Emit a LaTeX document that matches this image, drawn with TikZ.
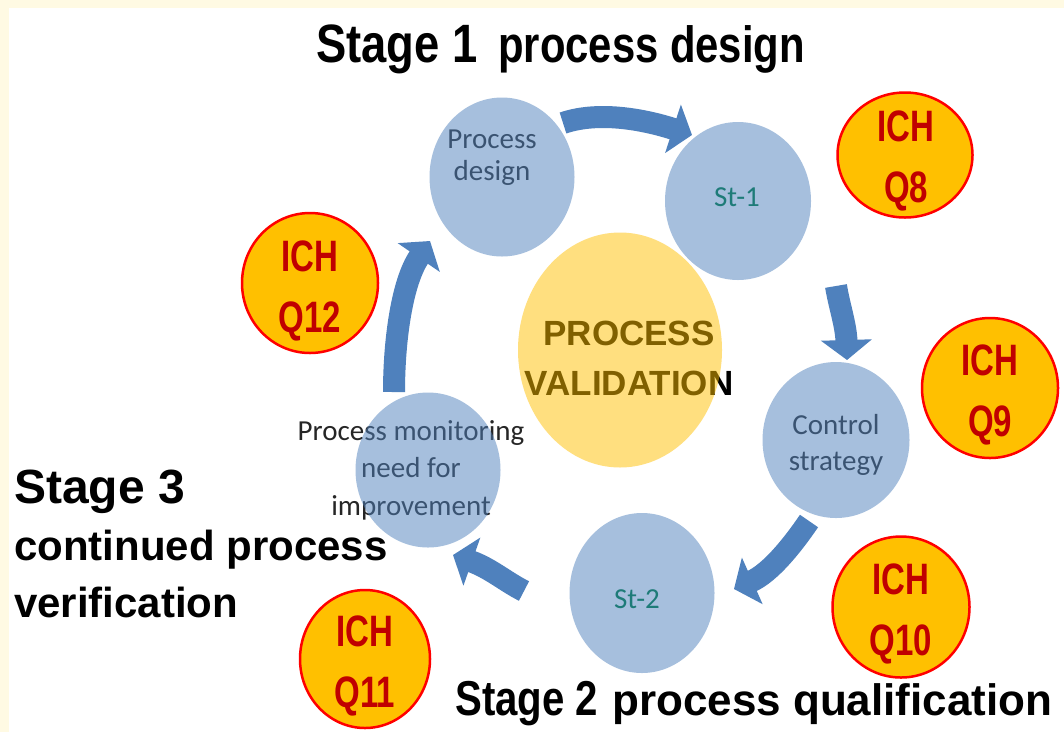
\documentclass[tikz,border=0pt]{standalone}
\usepackage{fontspec}
\setmainfont{Liberation Sans}
\newfontfamily\narrowsans{Liberation Sans}[FakeStretch=0.82]
\newfontfamily\stagesans{Liberation Sans}[FakeStretch=0.84]
\newfontfamily\ichsans{Liberation Sans}[FakeStretch=0.75]
\newfontfamily\calfont{Carlito}
\usetikzlibrary{shapes.geometric,arrows.meta}

\definecolor{cream}{HTML}{FFFAE3}
\definecolor{accentblue}{HTML}{4F81BD}
\definecolor{gold}{HTML}{FFC000}
\definecolor{ichred}{HTML}{C00000}
\definecolor{sttext}{HTML}{1E7B78}
\definecolor{inktext}{HTML}{262626}

\tikzset{
  bubble/.style={ellipse, inner sep=0pt, fill=accentblue, fill opacity=0.5},
  core/.style={ellipse, inner sep=0pt, fill=gold, fill opacity=0.5},
  ich/.style={ellipse, inner sep=0pt, fill=gold, draw=red, line width=2.5pt},
  ichtext/.style={anchor=base, inner sep=0pt, align=center, text=ichred,
    font={\ichsans\bfseries\fontsize{44}{61}\selectfont}},
  calib/.style={anchor=base, inner sep=0pt, align=center, text=inktext},
  stlabel/.style={anchor=base, inner sep=0pt, text=sttext,
    font={\calfont\fontsize{29}{34}\selectfont}},
  stage/.style={anchor=base west, inner sep=0pt, text=black},
  flow/.style={draw=accentblue, line width=22pt, line cap=butt,
    -{Triangle[width=50pt,length=20pt]}},
}

\begin{document}
\begin{tikzpicture}[x=1pt,y=-1pt]
  % page background with cream edge
  \useasboundingbox (0,0) rectangle (1064,732);
  \fill[cream] (0,0) rectangle (1064,732);
  \fill[white] (9,8) rectangle (1064,732);

  % texts that sit underneath the translucent circles (placed by last baseline)
  \node[calib, font={\calfont\fontsize{29}{32}\selectfont}] (pdtext) at (492,180) {Process\\design};
  \node[calib, font={\calfont\fontsize{29}{36}\selectfont}] (cstext) at (836,470) {Control\\strategy};
  \node[calib, font={\calfont\fontsize{29}{37.5}\selectfont}] (pmtext) at (411,515) {Process monitoring\\need for\\improvement};
  \node[calib, text=black, font={\bfseries\fontsize{35}{50}\selectfont}] (pvtext) at (629,395) {PROCESS\\VALIDATION};

  % translucent circles
  \node[bubble, minimum width=145pt, minimum height=159pt] (pd) at (502,177) {};
  \node[bubble, minimum width=146pt, minimum height=158pt] (st1) at (738,201) {};
  \node[bubble, minimum width=147pt, minimum height=156pt] (cs) at (836,440) {};
  \node[bubble, minimum width=145pt, minimum height=160pt] (st2) at (642,593) {};
  \node[bubble, minimum width=145pt, minimum height=155pt] (pm) at (428,470) {};
  \node[core, minimum width=204pt, minimum height=235pt] (pv) at (620,350) {};

  % step labels on top
  \node[stlabel] (st1text) at (737,206) {St-1};
  \node[stlabel] (st2text) at (637,608) {St-2};

  % cycle arrows
  \coordinate (a1s) at (563,123);  \coordinate (a1e) at (692,135);
  \coordinate (a2s) at (836,286);  \coordinate (a2e) at (847,360);
  \coordinate (a3s) at (809,521);  \coordinate (a3e) at (734,589);
  \coordinate (a4s) at (524,591);  \coordinate (a4e) at (453,555);
  \coordinate (a5s) at (394,392);  \coordinate (a5e) at (430,241);
  \draw[flow] (a1s) .. controls (601,110) and (649,121) .. (a1e);
  \draw[flow] (a2s) .. controls (839,305) and (846,325) .. (a2e);
  \draw[flow] (a3s) .. controls (792,546) and (770,573) .. (a3e);
  \draw[flow] (a4s) .. controls (506,582) and (490,568) .. (a4e);
  \draw[flow] (a5s) .. controls (394,340) and (402,282) .. (a5e);

  % ICH guideline badges
  \node[ich, minimum width=135pt, minimum height=125pt] (q8) at (905,155) {};
  \node[ich, minimum width=136pt, minimum height=140pt] (q9) at (990,388) {};
  \node[ich, minimum width=136pt, minimum height=140pt] (q12) at (310,283) {};
  \node[ich, minimum width=130pt, minimum height=138pt] (q11) at (365,659) {};
  \node[ich, minimum width=137pt, minimum height=141pt] (q10) at (901,607) {};
  \node[ichtext] (q8text)  at (906,202) {ICH\\Q8};
  \node[ichtext] (q9text)  at (990,436) {ICH\\Q9};
  \node[ichtext] (q12text) at (310,332) {ICH\\Q12};
  \node[ichtext] (q11text) at (365,707) {ICH\\Q11};
  \node[ichtext] (q10text) at (901,655) {ICH\\Q10};

  % stage captions
  \node[stage, font={\stagesans\bfseries\fontsize{54}{60}\selectfont}] (s1a) at (316,62) {Stage 1};
  \node[stage, font={\narrowsans\bfseries\fontsize{51}{60}\selectfont}] (s1b) at (498,62) {process design};
  \node[stage, font={\narrowsans\bfseries\fontsize{49}{56}\selectfont}] (s2a) at (455,715) {Stage 2};
  \node[stage, font={\bfseries\fontsize{44}{50}\selectfont}] (s2b) at (612,715) {process qualification};
  \node[stage, font={\bfseries\fontsize{48}{56}\selectfont}] (s3a) at (14,503) {Stage 3};
  \node[stage, font={\bfseries\fontsize{42}{50}\selectfont}] (s3b) at (14,560) {continued process};
  \node[stage, font={\bfseries\fontsize{42}{50}\selectfont}] (s3c) at (14,617) {verification};
\end{tikzpicture}
\end{document}
